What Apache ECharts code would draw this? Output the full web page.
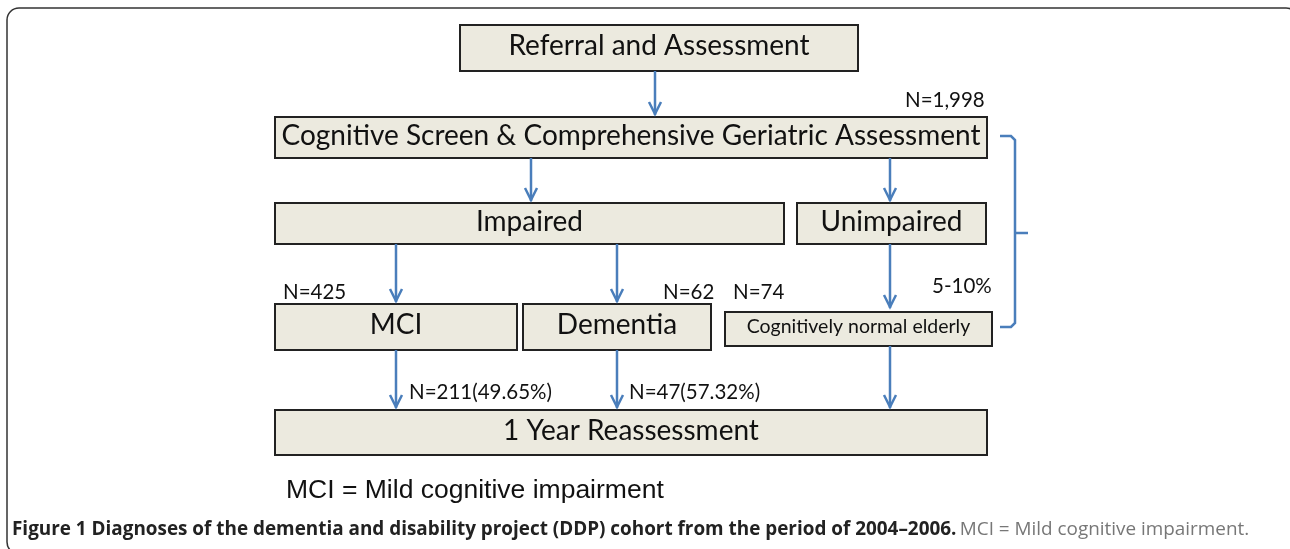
<!DOCTYPE html>
<html>
<head>
<meta charset="utf-8">
<script src="https://cdn.jsdelivr.net/npm/echarts@6/dist/echarts.min.js"></script>
<style>
  html, body { margin: 0; padding: 0; background: #fff; }
  #chart { width: 1290px; height: 549px; }
</style>
</head>
<body>
<div id="chart"></div>
<script>
// flow boxes (page pixel space, y downwards)
// \u200C keeps Lato from joining "ti" into a ligature
const boxLabels = ['Referral and Assessment', 'Cogni\u200Ctive Screen & Comprehensive Geriatric Assessment',
  'Impaired', 'Unimpaired', 'MCI', 'Demen\u200Ctia', 'Cogni\u200Ctively normal elderly', '1 Year Reassessment'];
const boxLeft = [460, 275, 275, 797, 275, 523, 725, 275];
const boxRight = [858, 987, 784, 986, 517, 711, 992, 987];
const boxTop = [25, 117, 203, 203, 304, 304, 312, 410];
const boxBottom = [71, 158, 244, 244, 350, 350, 346, 455];

// arrows
const arrowX = [655, 531, 890, 396, 617, 890, 396, 617, 890];
const arrowFrom = [71, 158, 158, 244, 244, 244, 350, 350, 346];
const arrowTo = [115, 201, 201, 302, 302, 308, 408, 408, 408];

// counts written beside the flow
const countText = ['N=1,998', 'N=425', 'N=62', 'N=74', '5-10%', 'N=211(49.65%)', 'N=47(57.32%)'];
const countX = [905, 283, 663, 733, 932, 409, 629];
const countY = [100, 292, 292, 292, 286, 392, 392];

// brace on the right
const braceX = [1000, 1015, 1028];
const braceY = [136, 233, 327];

const boxFont = 'Lato, "Open Sans", sans-serif';

let chart = echarts.init(document.getElementById('chart'));

const option = {
  animation: false,
  grid: { left: 0, right: 0, top: 0, bottom: 0 },
  xAxis: { type: 'value', min: 0, max: 1290, show: false },
  yAxis: { type: 'value', min: 0, max: 549, inverse: true, show: false },
  graphic: [
    {
      type: 'rect',
      shape: { x: 7, y: 8, width: 1291, height: 546, r: 12 },
      style: { fill: 'none', stroke: '#333', lineWidth: 1.5 },
      silent: true
    },
    {
      type: 'text',
      x: 286, y: 491,
      style: {
        text: 'MCI = Mild cognitive impairment',
        fontFamily: '"Liberation Sans", Arial, sans-serif',
        fontSize: 26.5, fill: '#111', verticalAlign: 'middle'
      }
    },
    {
      type: 'text',
      x: 12, y: 530,
      style: {
        text: '{b|Figure 1 Diagnoses of the dementia and disability project (DDP) cohort from the period of 2004\u20132006.} {g|MCI = Mild cognitive impairment.}',
        verticalAlign: 'middle',
        rich: {
          b: { fontFamily: '"Open Sans", sans-serif', fontWeight: 'bold', fontSize: 18.9, fill: '#222' },
          g: { fontFamily: '"Open Sans", sans-serif', fontSize: 18.9, fill: '#777' }
        }
      }
    }
  ],
  series: [
    {
      type: 'custom',
      name: 'boxes',
      data: boxLabels.map((t, i) => [boxLeft[i], boxTop[i], boxRight[i], boxBottom[i]]),
      renderItem: (params, api) => {
        const p0 = api.coord([api.value(0), api.value(1)]);
        const p1 = api.coord([api.value(2), api.value(3)]);
        const small = params.dataIndex === 6;
        return {
          type: 'group',
          children: [
            {
              type: 'rect',
              shape: { x: p0[0], y: p0[1], width: p1[0] - p0[0], height: p1[1] - p0[1] },
              style: { fill: '#ECEADF', stroke: '#222', lineWidth: 2 }
            },
            {
              type: 'text',
              x: (p0[0] + p1[0]) / 2, y: (p0[1] + p1[1]) / 2 - 2,
              style: {
                text: boxLabels[params.dataIndex],
                align: 'center', verticalAlign: 'middle',
                fontFamily: boxFont, fontSize: small ? 19.5 : 28, fill: '#111'
              }
            }
          ]
        };
      }
    },
    {
      type: 'custom',
      name: 'arrows',
      data: arrowX.map((x, i) => [x, arrowFrom[i], arrowTo[i]]),
      renderItem: (params, api) => {
        const a = api.coord([api.value(0), api.value(1)]);
        const b = api.coord([api.value(0), api.value(2)]);
        const st = { stroke: '#4A7EBB', lineWidth: 2.5, fill: 'none' };
        return {
          type: 'group',
          children: [
            { type: 'line', shape: { x1: a[0], y1: a[1], x2: b[0], y2: b[1] }, style: st },
            { type: 'polyline', shape: { points: [[b[0] - 6, b[1] - 13], [b[0], b[1] - 1], [b[0] + 6, b[1] - 13]] }, style: st }
          ]
        };
      }
    },
    {
      type: 'custom',
      name: 'counts',
      data: countText.map((t, i) => [countX[i], countY[i]]),
      renderItem: (params, api) => {
        const p = api.coord([api.value(0), api.value(1)]);
        return {
          type: 'text',
          x: p[0], y: p[1],
          style: {
            text: countText[params.dataIndex],
            verticalAlign: 'middle',
            fontFamily: boxFont, fontSize: 20.5, fill: '#111'
          }
        };
      }
    },
    {
      type: 'custom',
      name: 'brace',
      data: [[braceX[0], braceY[0]]],
      renderItem: (params, api) => {
        const t = api.coord([braceX[0], braceY[0]]);
        const m = api.coord([braceX[1], braceY[1]]);
        const b = api.coord([braceX[0], braceY[2]]);
        const tip = api.coord([braceX[2], braceY[1]]);
        const st = { stroke: '#4A7EBB', lineWidth: 2.5, fill: 'none' };
        return {
          type: 'group',
          children: [
            { type: 'polyline', shape: { points: [[t[0], t[1]], [m[0] - 4, t[1]], [m[0], t[1] + 4], [m[0], b[1] - 4], [m[0] - 4, b[1]], [b[0], b[1]]] }, style: st },
            { type: 'line', shape: { x1: m[0], y1: m[1], x2: tip[0], y2: tip[1] }, style: st }
          ]
        };
      }
    }
  ]
};
chart.setOption(option);
</script>
</body>
</html>
